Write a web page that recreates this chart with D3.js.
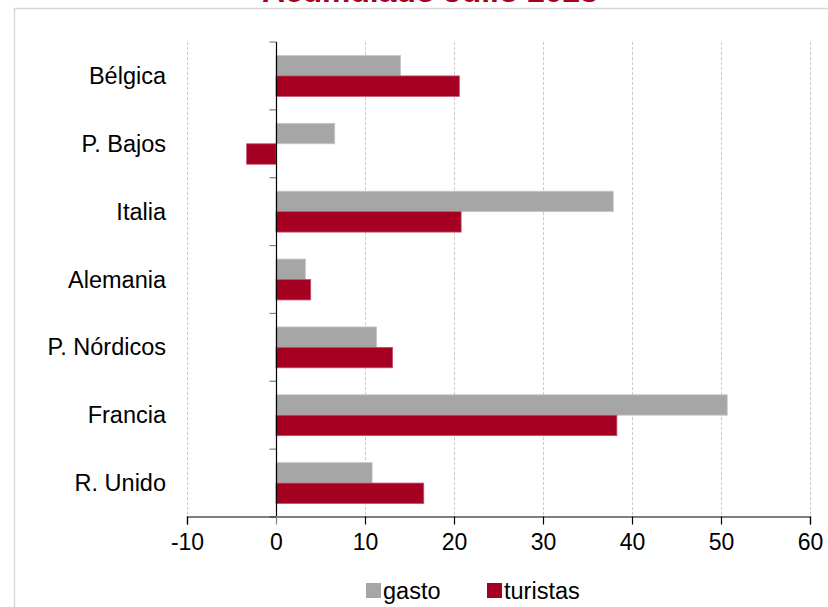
<!DOCTYPE html>
<html>
<head>
<meta charset="utf-8">
<script src="https://cdn.jsdelivr.net/npm/d3@7"></script>
<style>
body { margin: 0; background: #fff; }
text { font-family: "Liberation Sans", Arial, sans-serif; }
</style>
</head>
<body>
<div id="chart"></div>
<script>
const categories = ["Bélgica", "P. Bajos", "Italia", "Alemania", "P. Nórdicos", "Francia", "R. Unido"];
const gasto = [14.0, 6.6, 37.9, 3.3, 11.3, 50.7, 10.8];
const turistas = [20.6, -3.3, 20.8, 3.9, 13.1, 38.3, 16.6];
const seriesNames = ["gasto", "turistas"];
const xTicks = [-10, 0, 10, 20, 30, 40, 50, 60];
const titleText = "Acumulado Julio 2023";

const width = 828, height = 607;
const colors = { gasto: "#a6a6a6", turistas: "#a50021" };
const strokes = { gasto: "#c8c8c8", turistas: "#c0506a" };

const data = categories.map((c, i) => ({ cat: c, gasto: gasto[i], turistas: turistas[i] }));

const svg = d3.select("#chart").append("svg")
  .attr("width", width)
  .attr("height", height);

// frame
svg.append("path")
  .attr("d", "M14.5,620 L14.5,8.5 L840,8.5")
  .attr("fill", "none")
  .attr("stroke", "#d9d9d9")
  .attr("stroke-width", 1.5);

// title (cut off at top, as in the original)
svg.append("text")
  .attr("x", 262)
  .attr("y", 2)
  .attr("textLength", 336)
  .attr("lengthAdjust", "spacingAndGlyphs")
  .attr("font-size", 27)
  .attr("font-weight", "bold")
  .attr("fill", "#a50021")
  .text(titleText);

const xScale = d3.scaleLinear().domain([-10, 60]).range([187, 810]);
const yScale = d3.scaleBand().domain(categories).range([42, 517]);
const ySub = d3.scaleBand().domain(seriesNames).range([0, yScale.bandwidth()]).paddingOuter(0.66);

// grid
svg.append("g")
  .selectAll("line")
  .data(xTicks.filter(d => d !== 0))
  .join("line")
  .attr("x1", d => xScale(d) + 0.5)
  .attr("x2", d => xScale(d) + 0.5)
  .attr("y1", 42)
  .attr("y2", 516)
  .attr("stroke", "#cccccc")
  .attr("stroke-dasharray", "3,2");

// bars
const groups = svg.append("g")
  .selectAll("g")
  .data(data)
  .join("g")
  .attr("transform", d => `translate(0,${yScale(d.cat)})`);

groups.selectAll("rect")
  .data(d => seriesNames.map(k => ({ key: k, value: d[k] })))
  .join("rect")
  .attr("x", d => xScale(Math.min(0, d.value)))
  .attr("width", d => Math.abs(xScale(d.value) - xScale(0)))
  .attr("y", d => ySub(d.key))
  .attr("height", ySub.bandwidth())
  .attr("fill", d => colors[d.key])
  .attr("stroke", d => strokes[d.key])
  .attr("stroke-width", 0.8);

// y axis at zero
const x0 = Math.round(xScale(0)) + 0.5;
svg.append("g")
  .selectAll("line")
  .data(categories.concat(["end"]))
  .join("line")
  .attr("x1", x0 - 7)
  .attr("x2", x0)
  .attr("y1", (d, i) => 42 + i * yScale.step())
  .attr("y2", (d, i) => 42 + i * yScale.step())
  .attr("stroke", "#808080")
  .attr("stroke-width", 1.2);

svg.append("line")
  .attr("x1", x0).attr("x2", x0)
  .attr("y1", 42).attr("y2", 516)
  .attr("stroke", "#000")
  .attr("stroke-width", 1.2);

// category labels
svg.append("g")
  .selectAll("text")
  .data(categories)
  .join("text")
  .attr("x", 166)
  .attr("y", d => yScale(d) + yScale.bandwidth() / 2 + 8)
  .attr("text-anchor", "end")
  .attr("font-size", 23.5)
  .attr("fill", "#000")
  .text(d => d);

// x axis
const xAxis = d3.axisBottom(xScale)
  .tickValues(xTicks)
  .tickSize(8)
  .tickFormat(d3.format("d"));

const gx = svg.append("g")
  .attr("transform", "translate(0,516.5)")
  .call(xAxis);
gx.select(".domain").attr("stroke", "#000").attr("stroke-width", 1.2);
gx.selectAll(".tick line").attr("stroke", d => d === 0 ? "#808080" : "#000").attr("stroke-width", 1.2);
gx.selectAll(".tick text")
  .attr("font-size", 23)
  .attr("font-family", "Liberation Sans, Arial, sans-serif")
  .attr("fill", "#000")
  .attr("dy", "0.98em")
  .text(d => d < 0 ? "-" + Math.abs(d) : d);

// legend
const legendPos = [366, 487];
const legend = svg.append("g")
  .selectAll("g")
  .data(seriesNames)
  .join("g")
  .attr("transform", (d, i) => `translate(${legendPos[i]},583)`);

legend.append("rect")
  .attr("width", 15)
  .attr("height", 15)
  .attr("fill", d => colors[d]);

legend.append("text")
  .attr("x", 17)
  .attr("y", 16)
  .attr("font-size", 23.5)
  .attr("fill", "#000")
  .text(d => d);
</script>
</body>
</html>
